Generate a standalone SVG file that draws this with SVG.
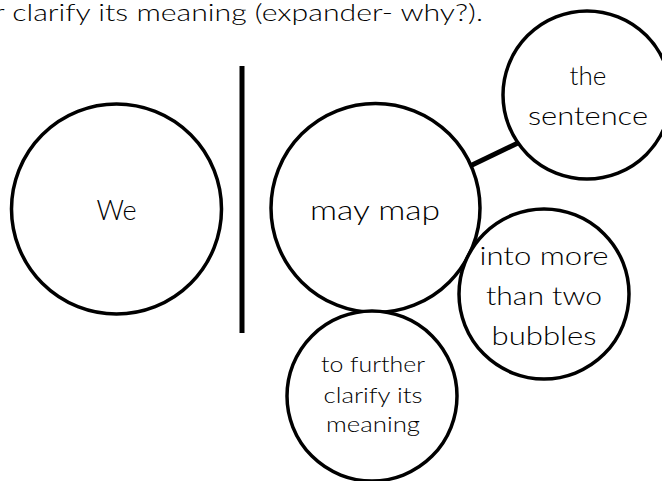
<svg xmlns="http://www.w3.org/2000/svg" width="662" height="481" viewBox="0 0 662 481">
<style>
.bubble{fill:#fff;stroke:#000;stroke-width:3.5}
.t{font-family:Lato,"Open Sans","Liberation Sans",sans-serif;font-weight:300;fill:#000;text-anchor:middle}
.conn{stroke:#000;fill:none}
</style>
<rect width="662" height="481" fill="#fff"/>
<text class="t" x="-6" y="21" font-size="24" style="text-anchor:start" textLength="489" lengthAdjust="spacingAndGlyphs">r clarify its meaning (expander- why?).</text>
<g id="connectors">
<line class="conn" x1="242" y1="66" x2="242" y2="333" stroke-width="5"/>
<line class="conn" x1="470" y1="166" x2="520" y2="142" stroke-width="5"/>
</g>
<g id="node-we">
<circle class="bubble" cx="116.5" cy="209" r="105"/>
<text class="t" x="116.5" y="220" font-size="27">We</text>
</g>
<g id="node-maymap">
<circle class="bubble" cx="375.5" cy="208" r="104.5"/>
<text class="t" x="375" y="220" font-size="27" textLength="130" lengthAdjust="spacingAndGlyphs">may map</text>
</g>
<g id="node-sentence">
<circle class="bubble" cx="587" cy="95" r="84"/>
<text class="t" x="588" y="85" font-size="26">the</text>
<text class="t" x="588" y="125" font-size="26" textLength="120" lengthAdjust="spacingAndGlyphs">sentence</text>
</g>
<g id="node-into">
<circle class="bubble" cx="544" cy="294" r="85"/>
<text class="t" x="544" y="265" font-size="26" textLength="129" lengthAdjust="spacingAndGlyphs">into more</text>
<text class="t" x="544" y="305" font-size="26" textLength="116" lengthAdjust="spacingAndGlyphs">than two</text>
<text class="t" x="544" y="345" font-size="26" textLength="105" lengthAdjust="spacingAndGlyphs">bubbles</text>
</g>
<g id="node-further">
<circle class="bubble" cx="372" cy="396" r="85"/>
<text class="t" x="373" y="372" font-size="22" textLength="104" lengthAdjust="spacingAndGlyphs">to further</text>
<text class="t" x="373" y="403" font-size="22" textLength="99" lengthAdjust="spacingAndGlyphs">clarify its</text>
<text class="t" x="373" y="432" font-size="22" textLength="94" lengthAdjust="spacingAndGlyphs">meaning</text>
</g>
</svg>
